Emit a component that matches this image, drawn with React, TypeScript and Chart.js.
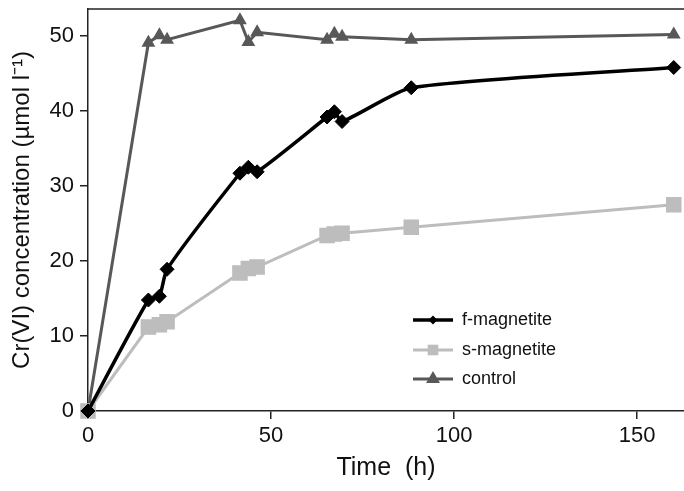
import React, { useEffect, useRef } from "react";
import { Chart, registerables } from "chart.js";

Chart.register(...registerables);

const times = [0, 16.5, 19.5, 21.6, 41.5, 43.8, 46.2, 65.3, 67.3, 69.4, 88.3, 160];
const fMagnetite = [0, 14.8, 15.3, 18.9, 31.7, 32.5, 31.9, 39.2, 39.9, 38.6, 43.1, 45.8];
const sMagnetite = [0, 11.2, 11.5, 11.9, 18.4, 19.0, 19.2, 23.4, 23.6, 23.7, 24.5, 27.5];
const control = [0, 49.1, 50.1, 49.5, 52.1, 49.2, 50.5, 49.5, 50.3, 49.9, 49.5, 50.2];
const seriesLabels = ["f-magnetite", "s-magnetite", "control"];
const xTicks = [0, 50, 100, 150];
const yTicks = [0, 10, 20, 30, 40, 50];

const FONT = "'Liberation Sans', Arial, Helvetica, sans-serif";

const toPoints = (ys: number[]) => ys.map((y, i) => ({ x: times[i], y }));

function drawMarker(ctx: CanvasRenderingContext2D, style: string, x: number, y: number, r: number) {
  ctx.beginPath();
  if (style === "rectRot") {
    ctx.moveTo(x - r, y);
    ctx.lineTo(x, y - r);
    ctx.lineTo(x + r, y);
    ctx.lineTo(x, y + r);
  } else if (style === "rect") {
    const s = Math.SQRT1_2 * r;
    ctx.rect(x - s, y - s, 2 * s, 2 * s);
  } else {
    const a = (2 * Math.PI) / 3;
    ctx.moveTo(x, y - r);
    ctx.lineTo(x + Math.sin(a) * r, y - Math.cos(a) * r);
    ctx.lineTo(x + Math.sin(2 * a) * r, y - Math.cos(2 * a) * r);
  }
  ctx.closePath();
  ctx.fill();
}

const frameAndLegend = {
  id: "frameAndLegend",
  afterDraw(chart: any) {
    const { ctx, chartArea } = chart;
    ctx.save();
    ctx.strokeStyle = "#222";
    ctx.lineWidth = 1.5;
    ctx.beginPath();
    ctx.moveTo(chartArea.left, chartArea.top);
    ctx.lineTo(chartArea.right, chartArea.top);
    ctx.stroke();

    const lx1 = 413;
    const lx2 = 453;
    const tx = 462;
    const rows = [320, 350, 379];
    const legendRadius = [4.5, 7.5, 8];
    chart.data.datasets.forEach((ds: any, i: number) => {
      const y = rows[i];
      ctx.strokeStyle = ds.borderColor;
      ctx.lineWidth = ds.borderWidth;
      ctx.beginPath();
      ctx.moveTo(lx1, y);
      ctx.lineTo(lx2, y);
      ctx.stroke();
      ctx.fillStyle = ds.pointBackgroundColor;
      drawMarker(ctx, ds.pointStyle, (lx1 + lx2) / 2, y, legendRadius[i]);
      ctx.fillStyle = "#111";
      ctx.font = `18px ${FONT}`;
      ctx.textBaseline = "middle";
      ctx.textAlign = "left";
      ctx.fillText(ds.label, tx, y);
    });
    ctx.restore();
  },
};

const zeroPad = (s: any) => {
  s.paddingTop = 0;
  s.paddingBottom = 0;
  s.paddingLeft = 0;
  s.paddingRight = 0;
};

export default function App() {
  const ref = useRef<HTMLCanvasElement | null>(null);
  useEffect(() => {
    if (!ref.current) return;
    const chart = new Chart(ref.current, {
      type: "line",
      data: {
        datasets: [
          {
            label: seriesLabels[0],
            data: toPoints(fMagnetite),
            borderColor: "#000000",
            backgroundColor: "#000000",
            pointBackgroundColor: "#000000",
            pointBorderColor: "#000000",
            borderWidth: 3.5,
            pointStyle: "rectRot",
            pointRadius: 7,
            pointBorderWidth: 1,
            tension: 0.2,
            clip: false,
          },
          {
            label: seriesLabels[1],
            data: toPoints(sMagnetite),
            borderColor: "#bdbdbd",
            backgroundColor: "#bdbdbd",
            pointBackgroundColor: "#bdbdbd",
            pointBorderColor: "#bdbdbd",
            borderWidth: 3,
            pointStyle: "rect",
            pointRadius: 11,
            pointBorderWidth: 0,
            tension: 0,
            clip: false,
          },
          {
            label: seriesLabels[2],
            data: toPoints(control),
            borderColor: "#585858",
            backgroundColor: "#585858",
            pointBackgroundColor: "#585858",
            pointBorderColor: "#585858",
            borderWidth: 3,
            pointStyle: "triangle",
            pointRadius: 8,
            pointBorderWidth: 0,
            tension: 0,
            clip: false,
          },
        ] as any,
      },
      options: {
        animation: false,
        responsive: true,
        maintainAspectRatio: false,
        layout: { autoPadding: false, padding: { top: 9, right: 0, left: 0, bottom: 0 } },
        plugins: { legend: { display: false }, tooltip: { enabled: false } },
        scales: {
          x: {
            type: "linear",
            min: 0,
            max: 162.8,
            afterFit: (s: any) => {
              s.height = 80;
              zeroPad(s);
            },
            afterBuildTicks: (s: any) => {
              s.ticks = xTicks.map((v) => ({ value: v }));
            },
            ticks: {
              font: { family: FONT, size: 22 },
              color: "#111",
              padding: 4,
              maxRotation: 0,
            },
            grid: { drawOnChartArea: false, drawTicks: true, tickLength: 8, color: "#222", lineWidth: 1.5 },
            border: { display: true, color: "#222", width: 1.5 },
            title: {
              display: true,
              text: "Time  (h)",
              font: { family: FONT, size: 25 },
              color: "#111",
              padding: { top: 0, bottom: 8 },
            },
          },
          y: {
            type: "linear",
            min: 0,
            max: 53.6,
            afterFit: (s: any) => {
              s.width = 88;
              zeroPad(s);
            },
            afterBuildTicks: (s: any) => {
              s.ticks = yTicks.map((v) => ({ value: v }));
            },
            ticks: {
              font: { family: FONT, size: 22 },
              color: "#111",
              padding: 6,
            },
            grid: { drawOnChartArea: false, drawTicks: true, tickLength: 8, color: "#222", lineWidth: 1.5 },
            border: { display: true, color: "#222", width: 1.5 },
            title: {
              display: true,
              text: "Cr(VI) concentration (\u00b5mol l\u207b\u00b9)",
              font: { family: FONT, size: 24 },
              color: "#111",
              padding: { top: 8, bottom: 0 },
            },
          },
        },
      },
      plugins: [frameAndLegend],
    });
    return () => chart.destroy();
  }, []);
  return (
    <div style={{ position: "fixed", left: 0, top: 0, width: 684, height: 491, background: "#fff" }}>
      <canvas ref={ref} />
    </div>
  );
}
